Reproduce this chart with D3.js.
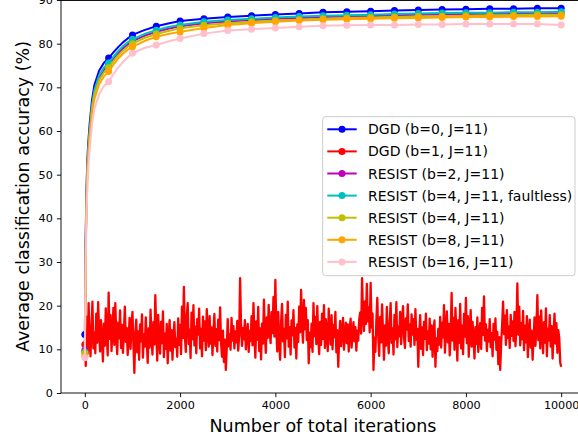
<!DOCTYPE html>
<html><head><meta charset="utf-8">
<script src="https://cdn.jsdelivr.net/npm/d3@7"></script>
<style>body{margin:0;background:#fff}svg{display:block}text{font-family:"DejaVu Sans",sans-serif}</style>
</head><body><svg id="c" width="578" height="439"></svg>
<script>
// ---- data ----
const iterations = [0,20,40,60,80,100,150,200,300,400,500,600,700,800,900,1000,1250,1500,1750,2000,2500,3000,3500,4000,4500,5000,5500,6000,6500,7000,7500,8000,8500,9000,9500,10000];
const dgdB0 = [13.4,38,49,55,58.5,61.5,67,70.5,73.8,75.6,76.7,78,79.2,80.3,81.2,82,83.1,84,84.6,85.2,85.7,86.1,86.4,86.7,86.9,87.2,87.3,87.4,87.6,87.7,87.8,87.9,88.0,88.0,88.1,88.1];
const resistB2 = [9.8,34.5,46.5,53,56.5,59.5,65.3,68.8,72.2,74,75.1,76.5,77.8,78.9,79.8,80.6,81.8,82.7,83.4,84,84.7,85.1,85.4,85.7,85.9,86.1,86.2,86.3,86.5,86.6,86.7,86.8,86.8,86.9,86.9,87];
const resistB4Faultless = [9.4,35,47,53.5,57,60,65.8,69.3,72.7,74.5,75.6,77,78.3,79.4,80.3,81,82.2,83.1,83.8,84.3,85,85.4,85.7,86,86.2,86.4,86.5,86.6,86.8,86.9,87,87.1,87.1,87.2,87.2,87.3];
const resistB4 = [9.1,34,46,52.5,56,59,64.8,68.3,71.6,73.4,74.5,76,77.3,78.4,79.3,80,81.3,82.2,82.9,83.5,84.2,84.7,85,85.3,85.5,85.7,85.9,86,86.1,86.2,86.3,86.4,86.5,86.5,86.6,86.6];
const resistB8 = [8.4,33,45,51.5,55,58,63.8,67.3,70.7,72.5,73.6,75.2,76.6,77.7,78.6,79.3,80.6,81.6,82.2,82.7,83.6,84.3,84.7,85,85.3,85.5,85.6,85.7,85.8,85.9,86,86.1,86.1,86.2,86.2,86.3];
const resistB16 = [8.1,31,42.5,49,52.5,55.5,61.5,65,68.4,70.3,71.3,73,74.5,75.8,76.9,77.8,79,79.7,80.5,81.2,82.3,83,83.3,83.6,83.9,84.1,84.2,84.3,84.3,84.4,84.4,84.5,84.5,84.5,84.5,84.3];
// DGD with b=1: one value every 20 iterations, 0..10000
const redStep = 20;
const dgdB1 = [
11.1,6.2,17.5,9.0,20.6,12.1,8.4,15.3,20.9,10.2,13.8,9.1,18.2,11.5,20.8,14.0,9.5,16.7,12.3,7.2,15.9,10.8,19.4,13.1,8.6,
23.0,12.4,17.8,9.6,14.2,19.5,11.0,20.6,13.3,8.9,16.1,12.5,18.9,10.3,15.6,9.2,13.8,19.8,11.7,14.9,8.7,12.6,17.2,10.1,15.4,
18.6,11.2,4.6,13.5,16.8,9.3,14.1,7.6,15.7,11.8,18.0,8.1,13.4,10.6,17.3,12.0,6.9,14.8,10.4,19.1,12.7,8.8,16.2,11.1,22.4,
14.0,7.4,17.9,12.2,9.0,16.3,11.4,18.7,8.2,13.6,10.1,15.8,6.8,12.9,16.7,9.7,14.4,7.6,13.0,16.2,10.5,12.4,8.3,17.1,11.0,
15.6,8.9,19.8,12.6,24.3,13.1,9.4,17.7,20.6,11.2,14.5,8.0,18.4,12.3,20.1,10.9,15.2,9.1,16.9,13.4,19.3,10.2,14.7,8.4,17.5,
12.0,16.4,9.8,19.2,13.7,10.6,17.6,11.3,15.0,8.7,13.9,18.1,10.8,14.6,9.5,16.8,12.1,19.6,11.4,8.3,14.3,7.1,12.2,5.3,10.4,
16.9,10.7,13.4,9.9,17.2,12.0,15.3,10.2,14.1,11.6,16.5,9.7,13.2,26.3,15.4,10.8,14.9,12.3,16.7,10.0,13.6,15.8,9.4,14.2,11.9,
17.6,10.9,20.6,13.5,8.1,16.4,12.2,19.7,9.6,14.8,7.7,15.9,11.3,21.4,13.0,9.2,17.3,12.6,20.2,14.1,11.4,18.5,13.7,22.0,12.9,
25.9,14.3,9.5,18.6,12.0,7.6,16.2,20.4,11.8,14.7,8.2,17.9,12.5,20.9,10.6,15.1,8.8,16.6,13.2,19.0,10.4,14.9,7.9,15.7,11.7,
19.8,13.9,23.6,15.2,11.5,21.3,14.6,19.5,12.1,16.7,6.8,13.8,10.5,15.9,9.4,20.6,13.0,17.4,11.2,19.9,12.7,8.9,16.3,11.0,18.2,
12.4,20.1,10.3,16.9,13.5,9.6,19.3,14.2,11.1,17.8,10.0,15.6,12.8,18.6,9.3,14.4,6.0,12.6,16.5,10.7,14.0,17.2,9.9,13.3,16.1,
11.4,15.7,9.5,14.6,17.0,10.4,13.2,16.2,11.8,15.1,9.7,14.3,12.0,16.8,18.4,13.6,26.3,17.5,14.2,21.0,15.8,25.0,16.4,19.6,13.9,
25.2,15.0,18.2,5.3,12.7,9.4,16.6,21.8,13.1,8.5,17.4,11.6,20.3,14.0,7.6,15.5,10.8,19.7,12.9,9.1,16.0,20.6,11.5,14.8,8.8,
17.9,12.3,20.8,10.5,15.2,13.0,18.6,11.2,16.4,19.9,12.8,10.3,17.1,14.5,20.3,11.9,15.7,10.6,18.0,13.4,16.9,11.0,19.2,12.2,14.7,
6.0,13.6,17.8,10.1,15.0,8.7,16.3,12.4,18.2,9.8,14.1,11.3,17.0,10.0,15.5,8.3,13.9,16.6,6.0,12.5,9.6,14.7,11.1,17.4,10.4,
16.1,12.7,20.1,9.2,14.9,18.7,11.6,15.8,8.6,13.4,22.9,12.0,17.2,9.9,19.5,13.8,7.4,16.7,11.5,20.4,10.2,15.4,8.9,18.1,12.9,
21.8,11.4,17.6,8.3,14.2,19.0,10.6,16.3,12.5,7.9,15.1,11.2,17.3,9.4,13.8,16.0,10.1,19.5,13.3,22.1,12.0,15.7,9.6,14.5,11.8,
16.9,10.5,13.7,8.4,15.8,12.2,17.1,9.9,14.0,6.6,12.8,5.3,11.4,15.6,20.9,13.5,17.7,11.0,19.0,12.6,15.2,10.3,17.9,13.1,16.4,
11.9,18.6,10.7,14.9,25.1,13.4,19.8,10.9,16.0,12.3,18.8,9.8,15.4,11.6,17.6,8.2,13.9,16.8,10.4,14.3,7.6,12.5,17.3,10.8,15.0,
22.4,12.1,17.5,10.2,18.9,13.6,9.1,16.2,11.5,19.4,8.4,14.7,12.0,17.8,10.6,15.3,7.9,13.8,18.2,11.3,16.0,9.2,14.4,12.5,7.0,6.0];
const markerEvery = 500;
const xTicks = [0,2000,4000,6000,8000,10000];
const yTicks = [0,10,20,30,40,50,60,70,80,90];
const legendLabels = ["DGD (b=0, J=11)","DGD (b=1, J=11)","RESIST (b=2, J=11)","RESIST (b=4, J=11, faultless)","RESIST (b=4, J=11)","RESIST (b=8, J=11)","RESIST (b=16, J=11)"];
const colors = ["#0000ff","#ff0000","#bf00bf","#00bfbf","#bfbf00","#ffa500","#ffc0cb"];
const xLabel = "Number of total iterations";
const yLabel = "Average classification accuracy (%)";

// ---- build ----
const redIters = dgdB1.map((v,i)=>i*redStep);
const series = [
  {x: iterations, y: dgdB0, mk: markerEvery, w: 2},
  {x: redIters, y: dgdB1, mk: 100000, w: 2.3},
  {x: iterations, y: resistB2, mk: markerEvery, w: 2},
  {x: iterations, y: resistB4Faultless, mk: markerEvery, w: 2},
  {x: iterations, y: resistB4, mk: markerEvery, w: 2},
  {x: iterations, y: resistB8, mk: markerEvery, w: 2},
  {x: iterations, y: resistB16, mk: markerEvery, w: 2}
].map((s,i)=>({pts: s.x.map((xv,j)=>({x:xv,y:s.y[j]})), mk: s.mk, w: s.w, color: colors[i], label: legendLabels[i]}));

const svg = d3.select("#c");
const L=61, R=585, T=0, B=393;
const x = d3.scaleLinear().domain([-500,10500]).range([L,R]);
const y = d3.scaleLinear().domain([0,90]).range([B,T]);

svg.append("rect").attr("width",578).attr("height",439).attr("fill","#fff");
svg.append("defs").append("clipPath").attr("id","clip").append("rect")
  .attr("x",L).attr("y",T).attr("width",R-L).attr("height",B-T);

const plot = svg.append("g").attr("clip-path","url(#clip)");
const line = d3.line().x(d=>x(d.x)).y(d=>y(d.y));
series.forEach(s=>{
  plot.append("path").datum(s.pts).attr("d",line).attr("fill","none")
    .attr("stroke",s.color).attr("stroke-width",s.w).attr("stroke-linejoin","round");
  plot.selectAll(null).data(s.pts.filter(p=>p.x%s.mk===0)).enter().append("circle")
    .attr("cx",d=>x(d.x)).attr("cy",d=>y(d.y)).attr("r",3.5).attr("fill",s.color);
});

// axes
const fs = 11.2;
const xAxis = d3.axisBottom(x).tickValues(xTicks).tickSize(4.1).tickPadding(4.1).tickFormat(d3.format("d"));
const yAxis = d3.axisLeft(y).tickValues(yTicks).tickSize(4.1).tickPadding(4.1);
const gx = svg.append("g").attr("transform",`translate(0,${B})`).call(xAxis);
const gy = svg.append("g").attr("transform",`translate(${L},0)`).call(yAxis);
[gx,gy].forEach(g=>{
  g.select(".domain").remove();
  g.selectAll(".tick line").attr("stroke","#000").attr("stroke-width",0.93);
  g.selectAll(".tick text").attr("font-size",fs).attr("font-family","DejaVu Sans").attr("fill","#000");
});
// spines
svg.append("line").attr("x1",L).attr("x2",L).attr("y1",T).attr("y2",B).attr("stroke","#000").attr("stroke-width",0.93);
svg.append("line").attr("x1",L).attr("x2",R).attr("y1",B).attr("y2",B).attr("stroke","#000").attr("stroke-width",0.93);
svg.append("line").attr("x1",L).attr("x2",R).attr("y1",T+0.5).attr("y2",T+0.5).attr("stroke","#000").attr("stroke-width",0.93);

svg.append("text").attr("x",(L+R)/2).attr("y",431.5).attr("text-anchor","middle")
  .attr("font-size",17.5).attr("fill","#000").text(xLabel);
svg.append("text").attr("transform",`translate(29,${(T+B)/2}) rotate(-90)`).attr("text-anchor","middle")
  .attr("font-size",17.5).attr("fill","#000").text(yLabel);

// legend
const lg = svg.append("g");
lg.append("rect").attr("x",322.7).attr("y",116.7).attr("width",252.3).attr("height",159)
  .attr("rx",3).attr("fill","#fff").attr("fill-opacity",0.8).attr("stroke","#cccccc").attr("stroke-width",1);
series.forEach((s,i)=>{
  const cy = 129.3 + i*22.1;
  lg.append("line").attr("x1",327.3).attr("x2",356.7).attr("y1",cy).attr("y2",cy)
    .attr("stroke",s.color).attr("stroke-width",2);
  lg.append("circle").attr("cx",342).attr("cy",cy).attr("r",3.5).attr("fill",s.color);
  lg.append("text").attr("x",368).attr("y",cy).attr("dy","0.36em").attr("font-size",14)
    .attr("fill","#000").text(s.label);
});
</script></body></html>
